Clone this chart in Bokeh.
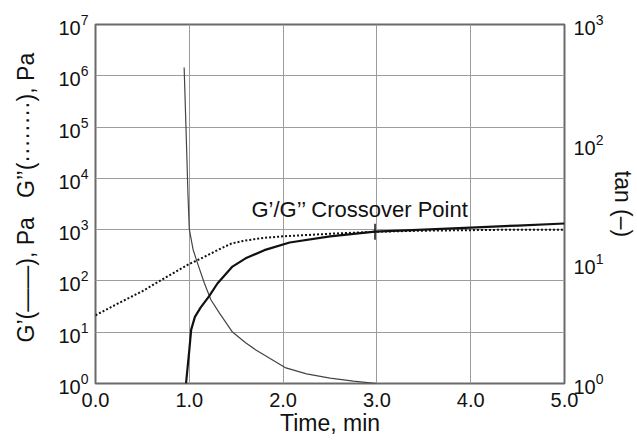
import math
from bokeh.plotting import figure
from bokeh.models import (Range1d, LogAxis, FixedTicker, LogTickFormatter,
                          PrintfTickFormatter, ColumnDataSource)
from bokeh.embed import file_html
from bokeh.resources import INLINE
from bokeh.core.properties import value

# ---- data (log10 values) ----
g2_time = [0.0, 0.25, 0.5, 0.75, 1.0, 1.15, 1.3, 1.45, 1.6, 1.8, 2.0, 2.5, 3.0, 3.5, 4.0, 4.5, 5.0]
g2_log = [1.33, 1.57, 1.80, 2.07, 2.33, 2.46, 2.60, 2.73, 2.79, 2.84, 2.87, 2.92, 2.96, 2.98, 2.99, 3.0, 3.0]

g1_time = [0.965, 1.0, 1.02, 1.06, 1.12, 1.21, 1.3, 1.46, 1.6, 1.8, 2.07, 2.5, 2.98, 3.5, 4.0, 4.5, 5.0]
g1_log = [0.0, 0.65, 1.05, 1.30, 1.48, 1.70, 1.95, 2.28, 2.44, 2.60, 2.75, 2.87, 2.96, 3.0, 3.04, 3.08, 3.12]

tan_time = [0.945, 0.97, 0.985, 1.0, 1.04, 1.09, 1.16, 1.23, 1.32, 1.46, 1.6, 1.71, 2.03, 2.25, 2.5, 2.75, 3.0]
tan_log = [2.64, 2.0, 1.6, 1.29, 1.12, 1.0, 0.84, 0.70, 0.59, 0.43, 0.34, 0.28, 0.13, 0.08, 0.045, 0.02, 0.0]

crossover_time = 2.98
crossover_log = 2.96
crossover_text = "G\u2019/G\u2019\u2019 Crossover Point"

x_ticks = [0, 1, 2, 3, 4, 5]
left_ticks = [1, 10, 100, 1000, 1e4, 1e5, 1e6, 1e7]
right_ticks = [1, 10, 100, 1000]

FONT = "Liberation Sans"
NB = "\u00a0"

p = figure(frame_width=469, frame_height=359,
           x_range=Range1d(0, 5), y_range=Range1d(1, 1e7), y_axis_type="log",
           output_backend="svg", toolbar_location=None,
           min_border_left=95, min_border_top=24, min_border_right=5, min_border_bottom=5)
p.extra_y_ranges = {"tan": Range1d(1, 1000)}

p.background_fill_color = "white"
p.border_fill_color = "white"
p.outline_line_color = "#6a6a6a"
p.outline_line_width = 2

# grid
p.xgrid.ticker = FixedTicker(ticks=x_ticks)
p.ygrid.ticker = FixedTicker(ticks=left_ticks)
for g in (p.xgrid, p.ygrid):
    g.grid_line_color = "#9c9c9c"
    g.grid_line_width = 1

# x axis
xa = p.xaxis[0]
xa.ticker = FixedTicker(ticks=x_ticks)
xa.formatter = PrintfTickFormatter(format="%.1f")
xa.axis_label = "Time, min"

# left axis
ya = p.yaxis[0]
ya.ticker = FixedTicker(ticks=left_ticks)
ya.formatter = LogTickFormatter()
ya.axis_label = (NB * 2 + "G\u2019(\u2014\u2014), Pa" + NB * 3 +
                 "G\u2019\u2019(" + "\u00b7" * 8 + "), Pa")

# right axis
ra = LogAxis(y_range_name="tan", ticker=FixedTicker(ticks=right_ticks),
             formatter=LogTickFormatter(), axis_label="tan (\u2013)")
p.add_layout(ra, "right")

for ax in (xa, ya, ra):
    ax.axis_line_color = None
    ax.major_tick_line_color = None
    ax.minor_tick_line_color = None
    ax.major_label_text_font = FONT
    ax.major_label_text_font_size = "20px"
    ax.major_label_text_color = "#111111"
    ax.axis_label_text_font = FONT
    ax.axis_label_text_font_size = "23px"
    ax.axis_label_text_font_style = "normal"
    ax.axis_label_text_color = "#111111"

xa.major_label_standoff = 3
xa.axis_label_standoff = 0
ya.major_label_standoff = 1
ya.axis_label_standoff = 16
ra.major_label_standoff = 3
ra.axis_label_standoff = 3

# curves
g2_src = ColumnDataSource(dict(t=g2_time, v=[10 ** v for v in g2_log]))
g1_src = ColumnDataSource(dict(t=g1_time, v=[10 ** v for v in g1_log]))
tan_src = ColumnDataSource(dict(t=tan_time, v=[10 ** v for v in tan_log]))

p.line("t", "v", source=g2_src, line_color="#111111", line_width=2, line_dash="2 2")
p.line("t", "v", source=tan_src, line_color="#444444", line_width=1.2, y_range_name="tan")
p.line("t", "v", source=g1_src, line_color="#111111", line_width=2.2)

# crossover marker and label
cx_src = ColumnDataSource(dict(t=[crossover_time], v=[10 ** crossover_log], s=[crossover_text]))
p.scatter("t", "v", source=cx_src, marker="dash", angle=math.pi / 2, size=16,
          line_color="#111111", line_width=1.5)
p.text("t", "v", text="s", source=cx_src, text_font=value(FONT), text_font_size="22px",
       text_align="center", text_baseline="alphabetic", x_offset=-15, y_offset=-22,
       text_color="#111111")

open("out.html", "w").write(file_html(p, INLINE))
